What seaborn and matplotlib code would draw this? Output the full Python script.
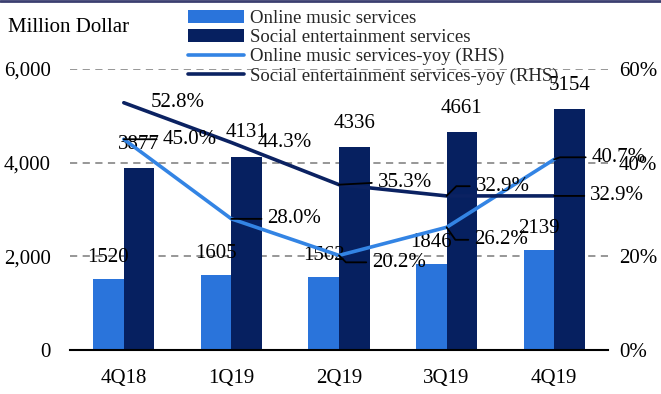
import numpy as np
import pandas as pd
import matplotlib
matplotlib.use("Agg")
import matplotlib.pyplot as plt
from matplotlib.lines import Line2D
from matplotlib.patches import Patch
from matplotlib.ticker import FuncFormatter, FixedLocator
import seaborn as sns

# ---- data ----
quarters = ["4Q18", "1Q19", "2Q19", "3Q19", "4Q19"]
online_music = [1520, 1605, 1562, 1846, 2139]
social_ent = [3877, 4131, 4336, 4661, 5154]
online_yoy = [45.0, 28.0, 20.2, 26.2, 40.7]
social_yoy = [52.8, 44.3, 35.3, 32.9, 32.9]
series_names = ["Online music services", "Social entertainment services"]
yoy_names = ["Online music services-yoy (RHS)", "Social entertainment services-yoy (RHS)"]

C_ONLINE = "#2A74DB"
C_SOCIAL = "#062060"
C_ONLINE_LINE = "#3384E4"
C_SOCIAL_LINE = "#0B2262"

sns.set_theme(style="white")
plt.rcParams["font.family"] = ["Liberation Serif", "DejaVu Serif"]
FS = 15

df = pd.DataFrame({
    "quarter": quarters * 2,
    "value": online_music + social_ent,
    "series": [series_names[0]] * 5 + [series_names[1]] * 5,
})

fig = plt.figure(figsize=(6.61, 3.94), dpi=100)
ax = fig.add_axes([70 / 661, 1 - 350 / 394, 538 / 661, 281 / 394])

sns.barplot(data=df, x="quarter", y="value", hue="series",
            palette=[C_ONLINE, C_SOCIAL], saturation=1, width=0.57,
            dodge=True, ax=ax, legend=False, linewidth=0)

ax.set_xlim(-0.5, 4.5)
ax.set_ylim(0, 6000)
ax.set_xlabel("")
ax.set_ylabel("")
ax.set_yticks([0, 2000, 4000, 6000])
ax.yaxis.set_major_formatter(FuncFormatter(lambda v, p: f"{v:,.0f}"))
for y in [2000, 4000, 6000]:
    ax.axhline(y, color="#8f8f8f", lw=1.3, ls=(0, (4, 3)), zorder=0)

for s in ["top", "left", "right"]:
    ax.spines[s].set_visible(False)
ax.spines["bottom"].set_color("black")
ax.spines["bottom"].set_linewidth(1.5)
ax.xaxis.set_minor_locator(FixedLocator(np.arange(-0.5, 5, 1.0)))
ax.tick_params(axis="x", which="major", length=0, labelsize=FS, pad=14, colors="black")
ax.tick_params(axis="x", which="minor", length=6.5, width=1.5, color="black", direction="out")
ax.tick_params(axis="y", length=0, labelsize=FS, pad=14, colors="black")

# bar value labels
for i in range(5):
    ax.annotate(f"{online_music[i]}", (i - 0.1425, online_music[i]),
                xytext=(0, 15.5), textcoords="offset points",
                ha="center", va="center", fontsize=FS, color="black")
    ax.annotate(f"{social_ent[i]}", (i + 0.1425, social_ent[i]),
                xytext=(0, 17), textcoords="offset points",
                ha="center", va="center", fontsize=FS, color="black")

# right-hand axis with yoy lines
ax2 = ax.twinx()
ax2.set_ylim(0, 60)
ax2.set_yticks([0, 20, 40, 60])
ax2.yaxis.set_major_formatter(FuncFormatter(lambda v, p: f"{v:.0f}%"))
ax2.tick_params(axis="y", length=0, labelsize=FS, pad=8, colors="black")
for s in ax2.spines.values():
    s.set_visible(False)
ax2.grid(False)

xpos = np.arange(5)
sns.lineplot(x=xpos, y=online_yoy, ax=ax2, color=C_ONLINE_LINE, lw=2.6, legend=False)
sns.lineplot(x=xpos, y=social_yoy, ax=ax2, color=C_SOCIAL_LINE, lw=2.6, legend=False)
ax2.set_xlim(-0.5, 4.5)


def pct_label(i, val, dx, dy, angle_b=None):
    kw = {}
    if angle_b is not None:
        if angle_b == 0:
            style = "arc3,rad=0"
        else:
            style = f"angle,angleA=0,angleB={angle_b},rad=0"
        kw["arrowprops"] = dict(arrowstyle="-", color="black", lw=1.3,
                                shrinkA=2, shrinkB=0, relpos=(0, 0.5),
                                connectionstyle=style)
    ax2.annotate(f"{val:.1f}%", (i, val), xytext=(dx, dy), textcoords="offset points",
                 ha="left", va="center", fontsize=FS, color="black", **kw)


# social yoy labels (dx, dy in points)
pct_label(0, social_yoy[0], 19, 0)
pct_label(1, social_yoy[1], 19, 0)
pct_label(2, social_yoy[2], 28, 1.5, 0)
pct_label(3, social_yoy[3], 21, 7, 45)
pct_label(4, social_yoy[4], 26, 0, 0)
# online yoy labels
pct_label(0, online_yoy[0], 28, 0, 0)
pct_label(1, online_yoy[1], 26, 0, 0)
pct_label(2, online_yoy[2], 24, -5, -45)
pct_label(3, online_yoy[3], 20, -9, -55)
pct_label(4, online_yoy[4], 27, 1.5, 20)

# legend
handles = [
    Patch(facecolor=C_ONLINE, edgecolor="none"),
    Patch(facecolor=C_SOCIAL, edgecolor="none"),
    Line2D([], [], color=C_ONLINE_LINE, lw=2.6),
    Line2D([], [], color=C_SOCIAL_LINE, lw=2.6),
]
leg = fig.legend(handles, series_names + yoy_names, loc="upper left",
                 bbox_to_anchor=(175 / 661, 1 + 3 / 394), frameon=False,
                 fontsize=13.5, handlelength=3.0, handleheight=0.7,
                 handletextpad=0.3, labelspacing=0.1, borderpad=0.2)

fig.text(8 / 661, 1 - 28 / 394, "Million Dollar", ha="left", va="center",
         fontsize=FS, color="black")

# top border
fig.add_artist(Line2D([0, 1], [1 - 1 / 394, 1 - 1 / 394], transform=fig.transFigure,
                      color="#3B3F70", lw=2))

fig.savefig("out.png", dpi=100)
